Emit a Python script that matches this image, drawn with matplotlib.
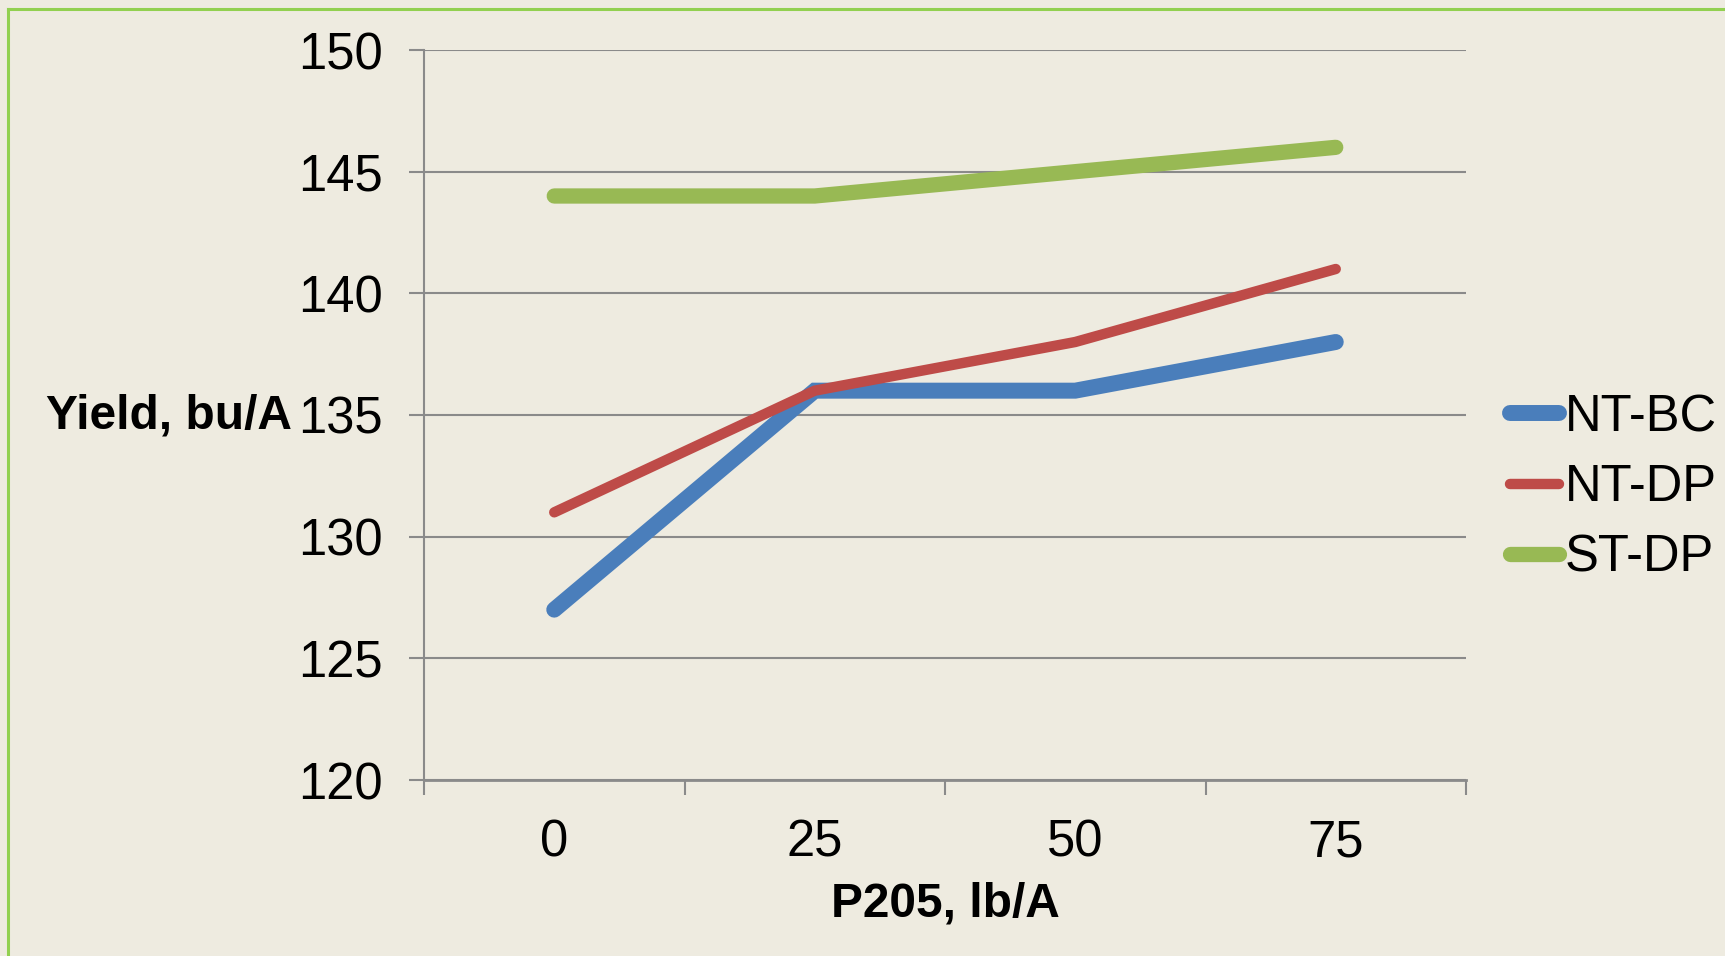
import matplotlib.pyplot as plt
from matplotlib.lines import Line2D

# data
rates = ["0", "25", "50", "75"]
nt_bc = [127, 136, 136, 138]
nt_dp = [131, 136, 138, 141]
st_dp = [144, 144, 145, 146]

series = [
    ("NT-BC", nt_bc, "#4a7ebb", 11.5),
    ("NT-DP", nt_dp, "#be4b48", 7.5),
    ("ST-DP", st_dp, "#98b954", 11.0),
]

W, H, DPI = 1725, 956, 100
bg = "#eeebe0"
grid_col = "#8a8a8a"

plt.rcParams["font.family"] = ["Liberation Sans", "DejaVu Sans"]

fig = plt.figure(figsize=(W / DPI, H / DPI), dpi=DPI, facecolor=bg)
ax = fig.add_axes([424 / W, 1 - 780 / H, (1466 - 424) / W, (780 - 50) / H])
ax.set_facecolor(bg)

x = list(range(len(rates)))
for name, vals, col, lw in series:
    ax.plot(x, vals, color=col, linewidth=lw, solid_capstyle="round",
            solid_joinstyle="miter", label=name)

ax.set_xlim(-0.5, len(rates) - 0.5)
ax.set_ylim(120, 150)
ax.set_yticks(range(120, 151, 5))
ax.set_xticks(x)
ax.set_xticklabels(rates)
ax.set_xticks([i - 0.5 for i in range(len(rates) + 1)], minor=True)
ax.grid(True, axis="y", color=grid_col, linewidth=1.5)
ax.set_axisbelow(True)

for s in ["top", "right"]:
    ax.spines[s].set_visible(False)
ax.spines["left"].set_color(grid_col)
ax.spines["left"].set_linewidth(1.5)
ax.spines["bottom"].set_color(grid_col)
ax.spines["bottom"].set_linewidth(2)

ax.tick_params(axis="y", which="major", length=11, width=1.5, color=grid_col,
               labelsize=36.5, pad=18.5)
ax.tick_params(axis="x", which="major", length=0, labelsize=36.5, pad=28)
ax.tick_params(axis="x", which="minor", length=11, width=1.5, color=grid_col)

fig.text(46 / W, 1 - 416 / H, "Yield, bu/A", fontsize=34.5, fontweight="bold",
         ha="left", va="center")
ax.set_xlabel("P205, lb/A", fontsize=34.5, fontweight="bold", labelpad=10)

leg = ax.legend(loc="center left", bbox_to_anchor=(1.042, 0.4), frameon=False,
                fontsize=36.5, handlelength=0.98, handletextpad=0.1,
                labelspacing=0.42, borderaxespad=0, borderpad=0)

# green frame (left and top edges visible)
fig.add_artist(Line2D([7.5 / W, 7.5 / W], [0, 1 - 9 / H], transform=fig.transFigure,
                      color="#92d050", linewidth=2.2))
fig.add_artist(Line2D([7.5 / W, 1], [1 - 9 / H, 1 - 9 / H], transform=fig.transFigure,
                      color="#92d050", linewidth=2.2))

fig.savefig("out.png", dpi=DPI, facecolor=bg)
